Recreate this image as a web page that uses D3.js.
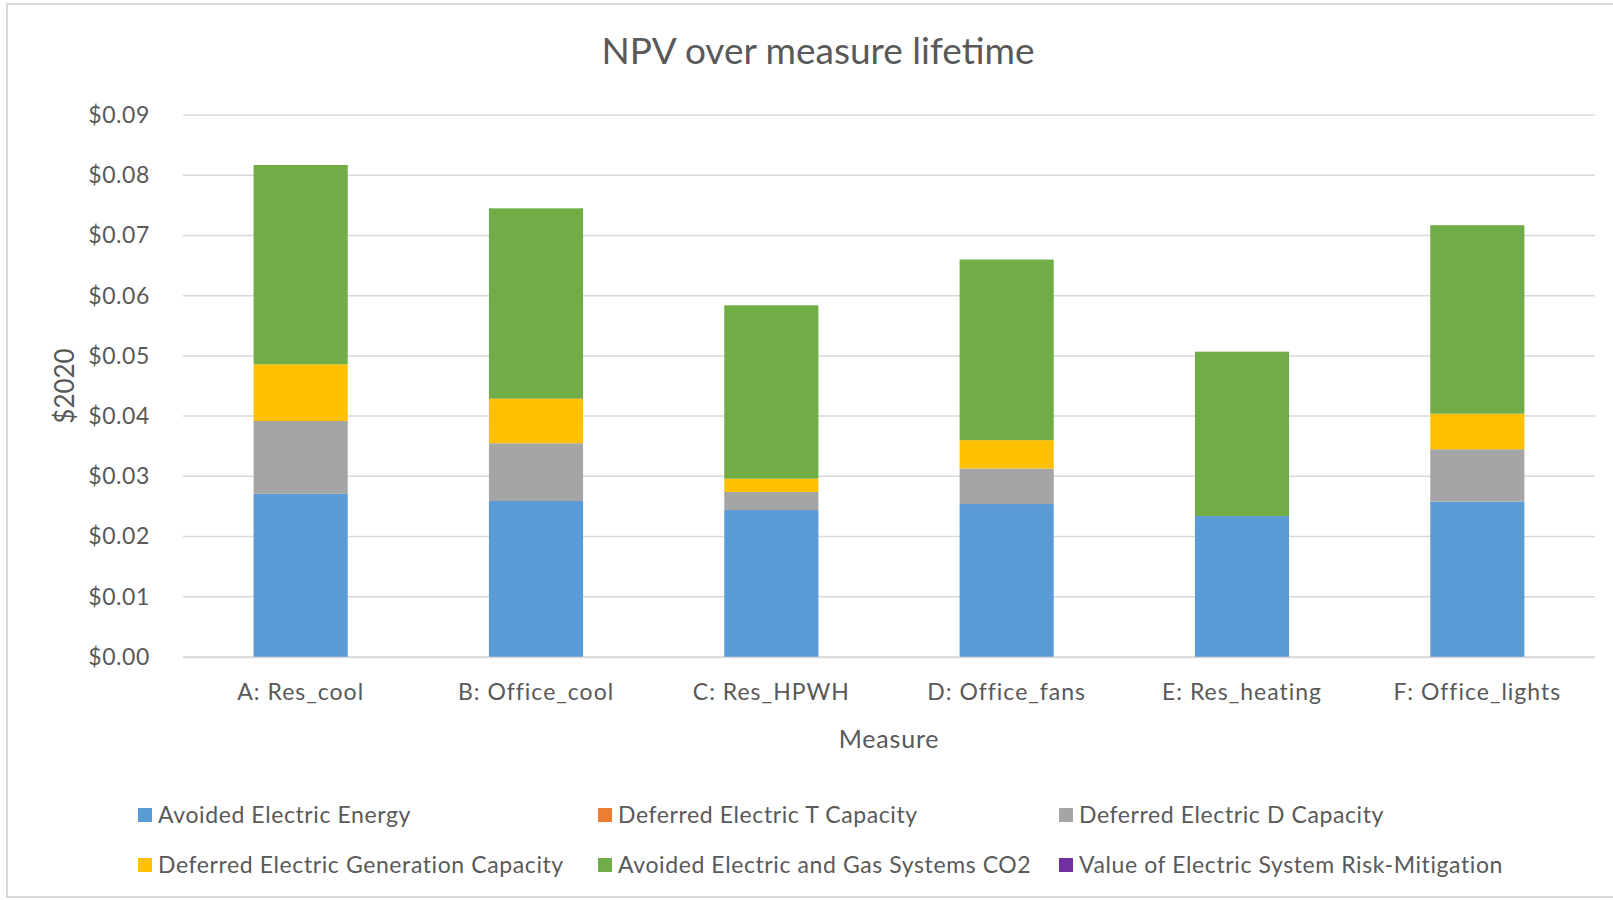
<!DOCTYPE html>
<html><head><meta charset="utf-8">
<script src="https://cdn.jsdelivr.net/npm/d3@7"></script>
<style>body{margin:0;background:#fff;}svg{display:block;font-family:Lato, "Open Sans", sans-serif;}</style>
</head><body>
<svg id="c" width="1613" height="900"></svg>
<script>
const categories = ["A: Res_cool","B: Office_cool","C: Res_HPWH","D: Office_fans","E: Res_heating","F: Office_lights"];
const seriesNames = ["Avoided Electric Energy","Deferred Electric T Capacity","Deferred Electric D Capacity","Deferred Electric Generation Capacity","Avoided Electric and Gas Systems CO2","Value of Electric System Risk-Mitigation"];
const avoidedEnergy   = [0.0271,0.0259,0.0244,0.0254,0.0234,0.0258];
const deferredT       = [0,0,0,0,0,0];
const deferredD       = [0.0121,0.0096,0.0030,0.0059,0,0.0087];
const deferredGen     = [0.0094,0.0074,0.0022,0.0047,0,0.0059];
const avoidedCO2      = [0.0331,0.0316,0.0288,0.0300,0.0273,0.0313];
const riskMitigation  = [0,0,0,0,0,0];
const yTicks = [0,0.01,0.02,0.03,0.04,0.05,0.06,0.07,0.08,0.09];
const colors = ["#5B9BD5","#ED7D31","#A5A5A5","#FFC000","#70AD47","#7030A0"];

(function(){
const seriesValues = [avoidedEnergy,deferredT,deferredD,deferredGen,avoidedCO2,riskMitigation];
const rows = categories.map((c,i)=>{const r={cat:c}; seriesNames.forEach((s,j)=>r[s]=seriesValues[j][i]); return r;});

const svg = d3.select("#c");
const txt = "#595959";
svg.append("rect").attr("x",7).attr("y",4).attr("width",1620).attr("height",893)
  .attr("fill","#fff").attr("stroke","#d9d9d9").attr("stroke-width",2);

const pL=183, pR=1595, pT=115, pB=657;
const x = d3.scaleBand().domain(categories).range([pL,pR]).paddingInner(0.6).paddingOuter(0.3);
const y = d3.scaleLinear().domain([0,0.09]).range([pB,pT]);

svg.append("g").selectAll("line").data(yTicks).join("line")
  .attr("x1",pL).attr("x2",pR).attr("y1",d=>y(d)).attr("y2",d=>y(d))
  .attr("stroke","#d9d9d9").attr("stroke-width",1.5);

const yAxis = svg.append("g").attr("transform",`translate(${pL},0)`)
  .call(d3.axisLeft(y).tickValues(yTicks).tickFormat(d=>"$"+d.toFixed(2)).tickSize(0).tickPadding(33));
yAxis.select(".domain").remove();
yAxis.selectAll("text").attr("fill",txt).style("font-size","23px").style("letter-spacing","0.6px").style("font-family","Lato, sans-serif");

const stack = d3.stack().keys(seriesNames)(rows);
svg.append("g").selectAll("g").data(stack).join("g").attr("fill",(d,i)=>colors[i])
  .selectAll("rect").data(d=>d).join("rect")
  .attr("x",d=>x(d.data.cat)).attr("width",x.bandwidth())
  .attr("y",d=>y(d[1])).attr("height",d=>Math.max(0,y(d[0])-y(d[1])));

const xAxis = svg.append("g").attr("transform",`translate(0,${pB})`)
  .call(d3.axisBottom(x).tickSize(0).tickPadding(27));
xAxis.select(".domain").attr("stroke","#d9d9d9").attr("stroke-width",1.5);
xAxis.selectAll("text").attr("fill",txt).style("font-size","23px").style("letter-spacing","1px").style("font-family","Lato, sans-serif");

svg.append("text").attr("x",818).attr("y",64).attr("text-anchor","middle")
  .attr("fill",txt).style("font-size","37px").text("NPV over measure lifetime");
svg.append("text").attr("x",889).attr("y",748).attr("text-anchor","middle")
  .attr("fill",txt).style("font-size","25px").style("letter-spacing","0.8px").text("Measure");
svg.append("text").attr("transform","translate(74,386) rotate(-90)").attr("text-anchor","middle")
  .attr("fill",txt).style("font-size","26px").text("$2020");

const legX=[138,598,1059], legY=[815,865];
const leg = svg.append("g").selectAll("g").data(seriesNames).join("g")
  .attr("transform",(d,i)=>`translate(${legX[i%3]},${legY[Math.floor(i/3)]})`);
leg.append("rect").attr("x",0).attr("y",-7).attr("width",14).attr("height",14).attr("fill",(d,i)=>colors[i]);
leg.append("text").attr("x",20).attr("y",0).attr("dy","0.35em").attr("fill",txt)
  .style("font-size","23px").style("letter-spacing","0.6px").text(d=>d);
})();
</script>
</body></html>
